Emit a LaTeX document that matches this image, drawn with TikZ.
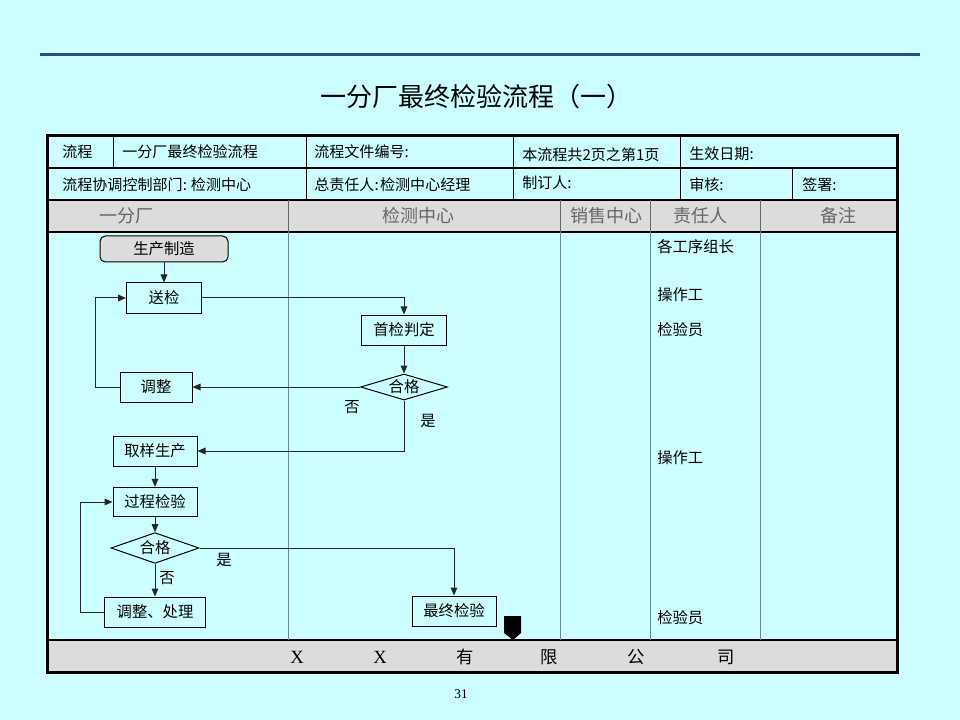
\documentclass[tikz,border=0pt]{standalone}
\usepackage{fontspec}
\setmainfont{Noto Sans CJK SC}
\newfontfamily\serifx{Liberation Serif}
\usetikzlibrary{arrows.meta,shapes.geometric}
\definecolor{bg}{HTML}{CCFFFF}
\definecolor{hdr}{HTML}{DCDCDC}
\definecolor{rule}{HTML}{2E4A7F}
\definecolor{lane}{HTML}{6A8C8E}
\definecolor{hdrtext}{HTML}{666666}
\begin{document}
\begin{tikzpicture}[x=0.75pt,y=-0.75pt,
  box/.style={draw=black, line width=0.75pt, fill=bg, inner sep=0pt, minimum height=22.5pt, font=\fontsize{11.5pt}{13pt}\selectfont},
  startbox/.style={box, fill=hdr, rounded corners=4pt},
  dia/.style={draw=black, line width=0.75pt, fill=bg, diamond, aspect=3.4, inner sep=0pt, font=\fontsize{11.5pt}{13pt}\selectfont},
  conn/.style={draw=black!85, line width=0.75pt, -{Triangle[length=6pt,width=5pt]}},
  cell/.style={anchor=west, inner sep=0pt, font=\fontsize{11.3pt}{13pt}\selectfont},
  head/.style={inner sep=0pt, text=hdrtext, font=\fontsize{13.5pt}{15pt}\selectfont},
  lbl/.style={inner sep=0pt, font=\fontsize{11.5pt}{13pt}\selectfont},
  resp/.style={anchor=west, inner sep=0pt, font=\fontsize{11.5pt}{13pt}\selectfont},
  foot/.style={inner sep=0pt, font=\fontsize{13pt}{15pt}\selectfont}
]
\fill[bg] (0,0) rectangle (960,720);
\useasboundingbox (0,0) rectangle (960,720);

% top rule and title
\draw[rule, line width=2.25pt] (40,55) -- (920,55);
\node[inner sep=0pt, font=\fontsize{19.5pt}{22pt}\selectfont] (title) at (476,97) {一分厂最终检验流程（一）};

% table fills
\fill[hdr] (47,200) rectangle (897,232);
\fill[hdr] (47,640) rectangle (897,672);

% table lines
\draw[black, line width=1pt] (47,168) -- (897,168);
\draw[black, line width=1pt] (47,200) -- (897,200);
\draw[black, line width=1pt] (47,232) -- (897,232);
\draw[black, line width=1pt] (47,640) -- (897,640);
\foreach \x in {113,306,513,680} \draw[black, line width=0.75pt] (\x,136) -- (\x,168);
\foreach \x in {306,513,680,792} \draw[black, line width=0.75pt] (\x,168) -- (\x,200);
\foreach \x in {288,560,650,760} \draw[black!60, line width=0.75pt] (\x,200) -- (\x,232);
\foreach \x in {288,560,650,760} \draw[lane, line width=0.75pt] (\x,232) -- (\x,640);
\draw[black, line width=2.25pt] (47,136) rectangle (897,672);

% row texts
\node[cell] (c11) at (62,152) {流程};
\node[cell] (c12) at (122,152) {一分厂最终检验流程};
\node[cell] (c13) at (314,152) {流程文件编号:};
\node[cell] (c14) at (522,155) {本流程共2页之第1页};
\node[cell] (c15) at (689,154) {生效日期:};
\node[cell] (c21) at (62,185) {流程协调控制部门:\hspace{3pt}检测中心};
\node[cell] (c22) at (314,185) {总责任人:\hspace{1pt}检测中心经理};
\node[cell] (c23) at (522,183) {制订人:};
\node[cell] (c24) at (689,185) {审核:};
\node[cell] (c25) at (802,185) {签署:};

% header
\node[head] (h1) at (126,216) {一分厂};
\node[head] (h2) at (418,216) {检测中心};
\node[head] (h3) at (606,216) {销售中心};
\node[head] (h4) at (700,216) {责任人};
\node[head] (h5) at (838,216) {备注};

% responsible
\node[resp] (r1) at (657,247) {各工序组长};
\node[resp] (r2) at (657,295) {操作工};
\node[resp] (r3) at (657,330) {检验员};
\node[resp] (r4) at (657,458) {操作工};
\node[resp] (r5) at (657,618) {检验员};

% flow nodes
\node[startbox, minimum width=96pt, minimum height=19.5pt] (sczz) at (164,249) {生产制造};
\node[box, minimum width=56.25pt] (sj) at (164,298) {送检};
\node[box, minimum width=63.75pt] (sjpd) at (404,330) {首检判定};
\node[dia, minimum width=65.25pt, minimum height=19.5pt] (hg1) at (404,387) {合格};
\node[box, minimum width=54pt] (tz) at (156,387) {调整};
\node[box, minimum width=63pt] (qy) at (155,451) {取样生产};
\node[box, minimum width=63pt, minimum height=22pt] (gc) at (155,502) {过程检验};
\node[dia, minimum width=66pt, minimum height=23pt] (hg2) at (155,548) {合格};
\node[box, minimum width=75.75pt] (tzcl) at (155,612) {调整、处理};
\node[box, minimum width=63pt] (zj) at (454,611) {最终检验};

% connectors
\draw[conn] (sczz) -- (sj);
\draw[conn] (sj.east) -| (sjpd.north);
\draw[conn] (sjpd) -- (hg1);
\draw[conn] (hg1.west) -- (tz.east);
\draw[conn] (tz.west) -- ++(-24,0) |- (sj.west);
\draw[conn] (hg1.south) |- (qy.east);
\draw[conn] (qy) -- (gc);
\draw[conn] (gc) -- (hg2);
\draw[conn] (hg2.east) -| (zj.north);
\draw[conn] (hg2) -- (tzcl);
\draw[conn] (tzcl.west) -- ++(-24,0) |- (gc.west);

% labels
\node[lbl] (n1) at (352,407) {否};
\node[lbl] (y1) at (428,421) {是};
\node[lbl] (y2) at (224,560) {是};
\node[lbl] (n2) at (167,578) {否};

% off-page connector
\fill[black] (504,616) -- (521,616) -- (521,633) -- (513,640) -- (504,633) -- cycle;

% footer
\node[foot, font=\serifx\fontsize{14pt}{16pt}\selectfont] (f1) at (297,657) {X};
\node[foot, font=\serifx\fontsize{14pt}{16pt}\selectfont] (f2) at (380,657) {X};
\node[foot] (f3) at (465,657) {有};
\node[foot] (f4) at (549,657) {限};
\node[foot] (f5) at (636,657) {公};
\node[foot] (f6) at (726,657) {司};

% page number
\node[inner sep=0pt, font=\serifx\fontsize{10pt}{12pt}\selectfont] (pg) at (461,694) {31};
\end{tikzpicture}
\end{document}
